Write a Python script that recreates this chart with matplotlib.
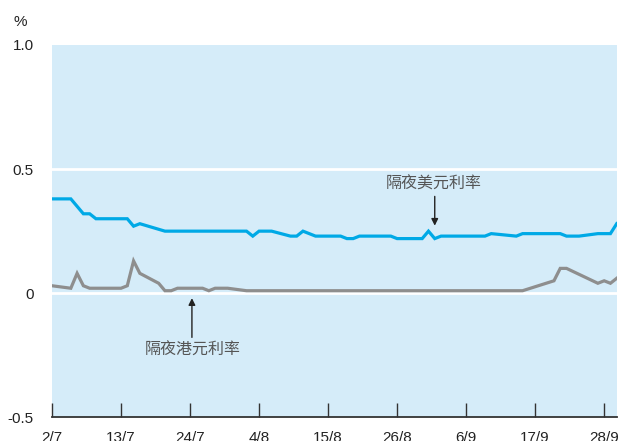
import matplotlib
matplotlib.use("Agg")
import matplotlib.pyplot as plt

plt.rcParams['font.family'] = ['Liberation Sans', 'Noto Sans CJK TC', 'DejaVu Sans']

# Days counted from 2 July
usd_days = [0, 3, 5, 6, 7, 12, 13, 14, 18, 31, 32, 33, 35, 38, 39, 40, 42, 46, 47, 48, 49,
            54, 55, 59, 60, 61, 62, 69, 70, 74, 75, 81, 82, 84, 87, 89, 90]
usd_rate = [0.38, 0.38, 0.32, 0.32, 0.30, 0.30, 0.27, 0.28, 0.25, 0.25, 0.23, 0.25, 0.25, 0.23,
            0.23, 0.25, 0.23, 0.23, 0.22, 0.22, 0.23, 0.23, 0.22, 0.22, 0.25, 0.22, 0.23, 0.23,
            0.24, 0.23, 0.24, 0.24, 0.23, 0.23, 0.24, 0.24, 0.28]

hkd_days = [0, 3, 4, 5, 6, 11, 12, 13, 14, 17, 18, 19, 20, 24, 25, 26, 28, 31, 75, 80, 81, 82,
            87, 88, 89, 90]
hkd_rate = [0.03, 0.02, 0.08, 0.03, 0.02, 0.02, 0.03, 0.13, 0.08, 0.04, 0.01, 0.01, 0.02, 0.02,
            0.01, 0.02, 0.02, 0.01, 0.01, 0.05, 0.10, 0.10, 0.04, 0.05, 0.04, 0.06]

tick_days = [0, 11, 22, 33, 44, 55, 66, 77, 88]
tick_labels = ['2/7', '13/7', '24/7', '4/8', '15/8', '26/8', '6/9', '17/9', '28/9']
y_ticks = [-0.5, 0, 0.5, 1.0]
y_tick_labels = ['-0.5', '0', '0.5', '1.0']

usd_label = '隔夜美元利率'
hkd_label = '隔夜港元利率'

fig = plt.figure(figsize=(6.21, 4.41), dpi=100)
ax = fig.add_axes([52 / 621, (441 - 417.3) / 441, 564.7 / 621, 372.3 / 441])
ax.set_facecolor('#D5ECF9')

ax.axhline(0.5, color='white', lw=2, zorder=1)
ax.axhline(0, color='white', lw=2, zorder=1)

ax.plot(usd_days, usd_rate, color='#00A9E6', lw=2.3, zorder=3, solid_joinstyle='miter')
ax.plot(hkd_days, hkd_rate, color='#8E8E8E', lw=2.3, zorder=3, solid_joinstyle='miter')

ax.set_xlim(0, 90)
ax.set_ylim(-0.5, 1.0)

for s in ['top', 'right', 'left']:
    ax.spines[s].set_visible(False)
ax.spines['bottom'].set_color('#333333')
ax.spines['bottom'].set_linewidth(1.3)

ax.set_xticks(tick_days)
ax.set_xticklabels(tick_labels, fontsize=11, color='#222222')
ax.tick_params(axis='x', direction='in', length=10, width=1, color='#333333', pad=10)

ax.set_yticks(y_ticks)
ax.set_yticklabels(y_tick_labels, fontsize=11, color='#222222')
ax.tick_params(axis='y', length=0, pad=13)

fig.text(13 / 621, 1 - 22 / 441, '%', fontsize=11, color='#222222', ha='left', va='center')

ax.annotate('', xy=(61.0, 0.272), xytext=(61.0, 0.39),
            arrowprops=dict(arrowstyle='-|>', color='#222222', lw=1, mutation_scale=10,
                            shrinkA=0, shrinkB=0))
ax.text(60.8, 0.44, usd_label, fontsize=11.5, color='#555555', ha='center', va='center',
        family=['Noto Sans CJK TC', 'DejaVu Sans'])

ax.annotate('', xy=(22.3, -0.02), xytext=(22.3, -0.178),
            arrowprops=dict(arrowstyle='-|>', color='#222222', lw=1, mutation_scale=10,
                            shrinkA=0, shrinkB=0))
ax.text(22.4, -0.23, hkd_label, fontsize=11.5, color='#555555', ha='center', va='center',
        family=['Noto Sans CJK TC', 'DejaVu Sans'])

fig.savefig('out.png', dpi=100)
